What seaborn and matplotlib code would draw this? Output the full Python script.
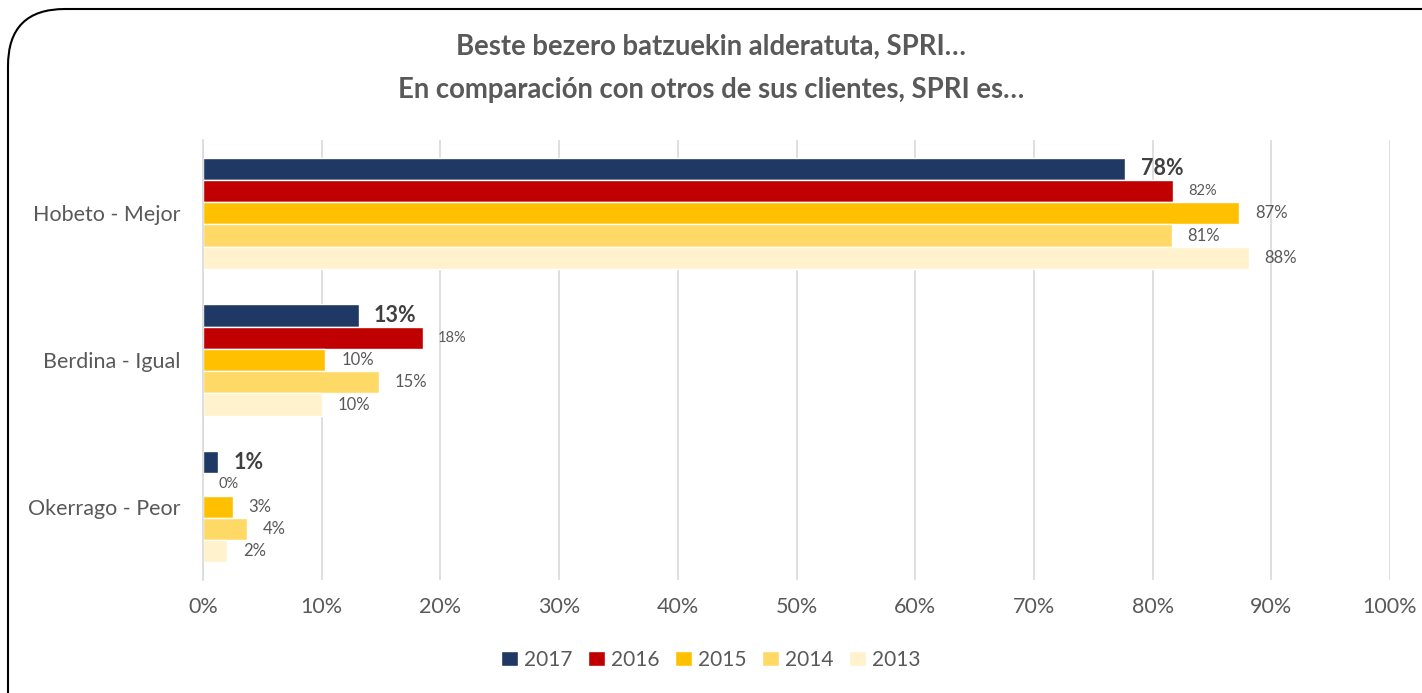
import matplotlib
matplotlib.use("Agg")
import matplotlib.pyplot as plt
import pandas as pd
import seaborn as sns
from matplotlib.patches import FancyBboxPatch

categories = ["Hobeto - Mejor", "Berdina - Igual", "Okerrago - Peor"]
years = ["2017", "2016", "2015", "2014", "2013"]
v2017 = [77.7, 13.1, 1.3]
v2016 = [81.7, 18.5, 0.0]
v2015 = [87.3, 10.3, 2.5]
v2014 = [81.6, 14.8, 3.7]
v2013 = [88.1, 10.0, 2.0]
labels2017 = ["78%", "13%", "1%"]
labels2016 = ["82%", "18%", "0%"]
labels2015 = ["87%", "10%", "3%"]
labels2014 = ["81%", "15%", "4%"]
labels2013 = ["88%", "10%", "2%"]
colors = ["#1F3864", "#C00000", "#FFC000", "#FFD966", "#FFF2CC"]

series = [v2017, v2016, v2015, v2014, v2013]
all_labels = [labels2017, labels2016, labels2015, labels2014, labels2013]
rows = []
for year, vals in zip(years, series):
    for cat, v in zip(categories, vals):
        rows.append({"cat": cat, "year": year, "value": v})
df = pd.DataFrame(rows)

sns.set_style("white")
plt.rcParams["font.family"] = ["Lato", "DejaVu Sans"]
text_color = "#595959"

fig = plt.figure(figsize=(14.22, 6.93), dpi=100)
ax = fig.add_axes([0.1428, 0.163, 0.8347, 0.635])

sns.barplot(data=df, y="cat", x="value", hue="year", hue_order=years,
            order=categories, palette=colors, orient="h", width=0.76,
            ax=ax, legend=True, saturation=1)

for i, cont in enumerate(ax.containers):
    if i == 0:
        ax.bar_label(cont, labels=all_labels[i], padding=11, fontsize=15.5,
                     fontweight="bold", color="#404040")
    elif i == 1:
        ax.bar_label(cont, labels=all_labels[i], padding=11, fontsize=10.5,
                     color=text_color)
    else:
        ax.bar_label(cont, labels=all_labels[i], padding=11.5, fontsize=12,
                     color=text_color)

ax.set_xlim(0, 100)
ax.set_xticks(range(0, 101, 10))
ax.set_xticklabels([f"{t}%" for t in range(0, 101, 10)])
ax.grid(axis="x", color="#D9D9D9", linewidth=1.2)
ax.set_axisbelow(True)
for s in ["top", "right", "bottom"]:
    ax.spines[s].set_visible(False)
ax.spines["left"].set_color("#D9D9D9")
ax.spines["left"].set_linewidth(1.2)
ax.set_xlabel("")
ax.set_ylabel("")
ax.tick_params(axis="both", length=0, labelsize=15.5, labelcolor=text_color)
ax.tick_params(axis="y", pad=16)
ax.tick_params(axis="x", pad=12)

ax.legend(loc="center", bbox_to_anchor=(0.5, 0.048), bbox_transform=fig.transFigure,
          ncol=5, frameon=False, fontsize=15, handlelength=0.8, handleheight=0.8,
          handletextpad=0.3, columnspacing=0.75, labelcolor=text_color)

fig.text(0.5, 0.932, "Beste bezero batzuekin alderatuta, SPRI…",
         ha="center", va="center", fontsize=19.8, fontweight="bold", color=text_color)
fig.text(0.5, 0.87, "En comparación con otros de sus clientes, SPRI es…",
         ha="center", va="center", fontsize=19.8, fontweight="bold", color=text_color)

border = FancyBboxPatch((8 / 1422, -0.1), 1.2, 1 - 9 / 693 + 0.1,
                        boxstyle="round,pad=0,rounding_size=0.04",
                        transform=fig.transFigure, fill=False,
                        edgecolor="black", linewidth=1.5, mutation_aspect=1422 / 693)
fig.patches.append(border)

fig.savefig("out.png", dpi=100)
